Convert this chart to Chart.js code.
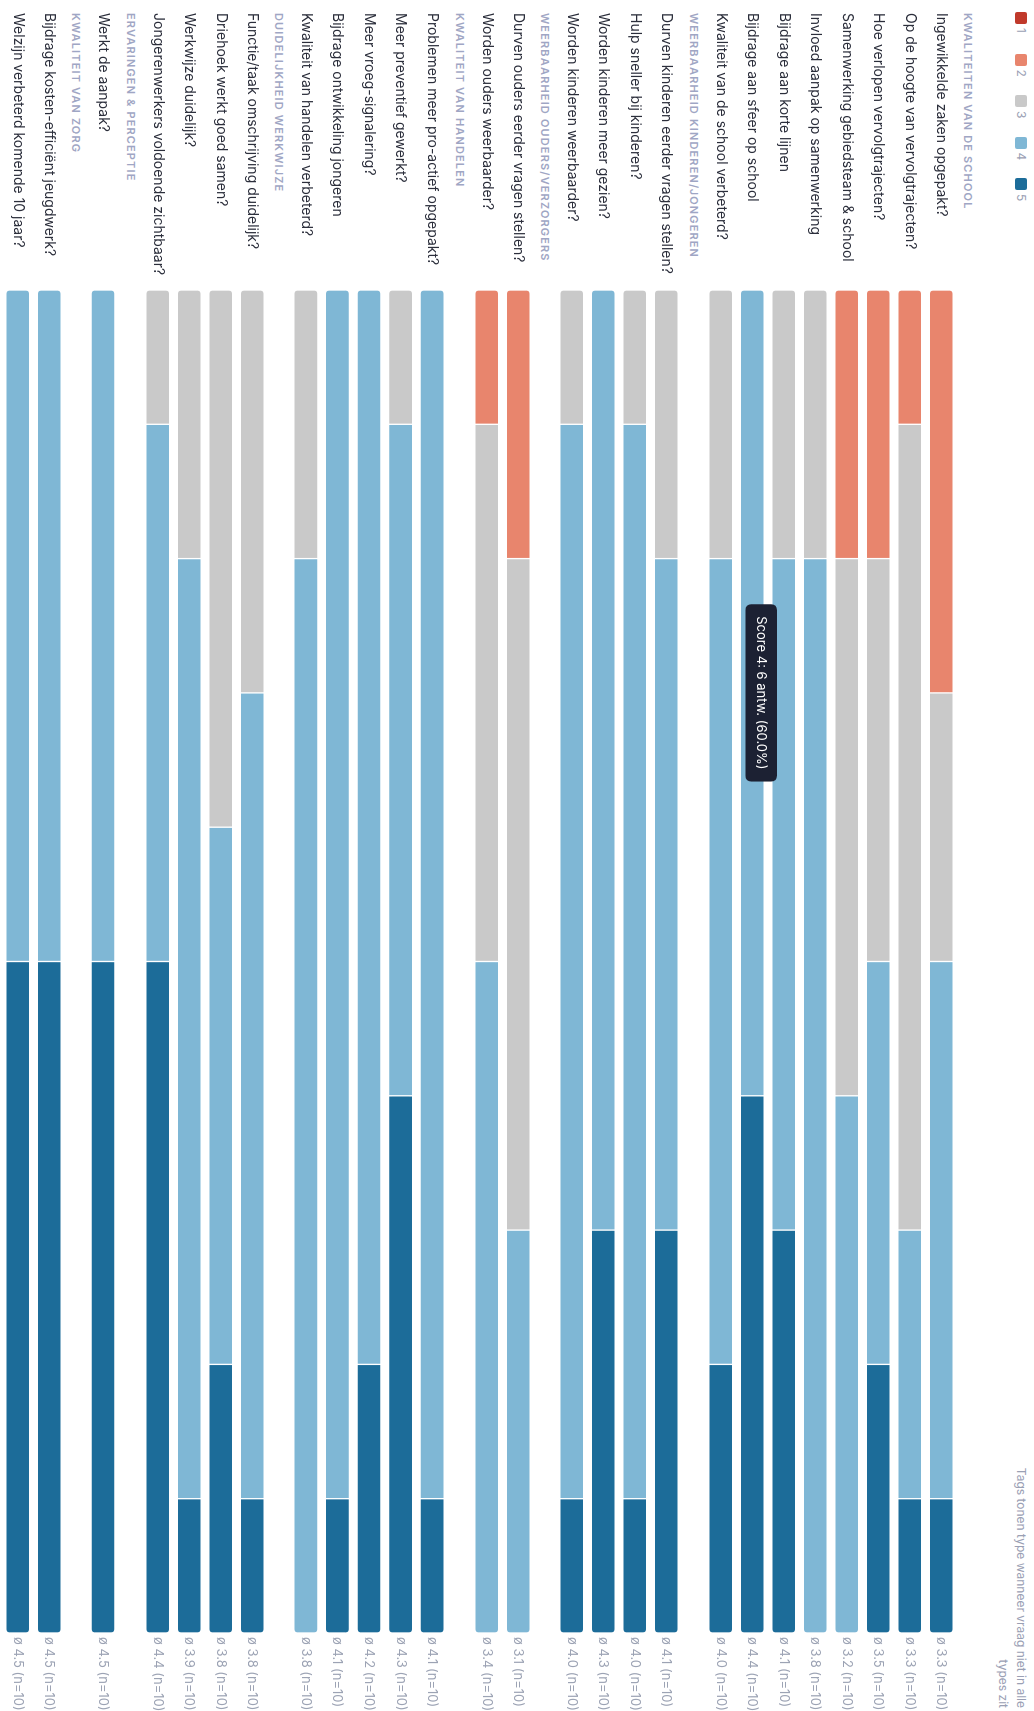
<!DOCTYPE html>
<html>
<head>
<meta charset="utf-8">
<script src="https://cdn.jsdelivr.net/npm/chart.js@4.4.1/dist/chart.umd.min.js"></script>
<style>
html, body { margin:0; padding:0; background:#fff; width:1034px; height:1711px; overflow:hidden; }
/* the chart is laid out landscape (1711x1034) and turned a quarter clockwise */
#page { position:absolute; left:0; top:0; width:1711px; height:1034px; transform-origin:0 0; transform:translateX(1034px) rotate(90deg); font-family:Inter, "Noto Sans", sans-serif; }
#legend { position:absolute; left:12px; top:6px; height:13px; display:flex; }
.item { width:41.5px; display:flex; align-items:center; font-size:12px; color:#9aa0b4; }
.box { width:12px; height:12px; border-radius:2px; margin-right:4px; }
#note { position:absolute; right:3px; top:4px; text-align:right; font-size:12px; line-height:18px; color:#9aa0b4; }
#groups { position:absolute; left:0; top:54.5px; width:1711px; }
.header { height:22.5px; line-height:22.5px; padding-left:13px; font-size:11px; font-weight:600; letter-spacing:1.15px; color:#9fa6c4; }
canvas { display:block; }
</style>
</head>
<body>
<div id="page">
  <div id="legend"></div>
  <div id="note">Tags tonen type wanneer vraag niet in alle<br>types zit</div>
  <div id="groups"></div>
</div>
<script>
var scoreLabels = ['1', '2', '3', '4', '5'];
var scoreColors = ['#c0392b', '#e8856d', '#c9c9c9', '#7fb7d5', '#1c6c99'];

var groupTitles = ['KWALITEITEN VAN DE SCHOOL', 'WEERBAARHEID KINDEREN/JONGEREN', 'WEERBAARHEID OUDERS/VERZORGERS',
    'KWALITEIT VAN HANDELEN', 'DUIDELIJKHEID WERKWIJZE', 'ERVARINGEN & PERCEPTIE', 'KWALITEIT VAN ZORG'];

// antwoorden per score 1..5
var schoolQuestions = ['Ingewikkelde zaken opgepakt?', 'Op de hoogte van vervolgtrajecten?', 'Hoe verlopen vervolgtrajecten?',
    'Samenwerking gebiedsteam & school', 'Invloed aanpak op samenwerking', 'Bijdrage aan korte lijnen',
    'Bijdrage aan sfeer op school', 'Kwaliteit van de school verbeterd?'];
var schoolCounts = [[0, 3, 2, 4, 1], [0, 1, 6, 2, 1], [0, 2, 3, 3, 2], [0, 2, 4, 4, 0],
    [0, 0, 2, 8, 0], [0, 0, 2, 5, 3], [0, 0, 0, 6, 4], [0, 0, 2, 6, 2]];

var kinderenQuestions = ['Durven kinderen eerder vragen stellen?', 'Hulp sneller bij kinderen?',
    'Worden kinderen meer gezien?', 'Worden kinderen weerbaarder?'];
var kinderenCounts = [[0, 0, 2, 5, 3], [0, 0, 1, 8, 1], [0, 0, 0, 7, 3], [0, 0, 1, 8, 1]];

var oudersQuestions = ['Durven ouders eerder vragen stellen?', 'Worden ouders weerbaarder?'];
var oudersCounts = [[0, 2, 5, 3, 0], [0, 1, 4, 5, 0]];

var handelenQuestions = ['Problemen meer pro-actief opgepakt?', 'Meer preventief gewerkt?', 'Meer vroeg-signalering?',
    'Bijdrage ontwikkeling jongeren', 'Kwaliteit van handelen verbeterd?'];
var handelenCounts = [[0, 0, 0, 9, 1], [0, 0, 1, 5, 4], [0, 0, 0, 8, 2], [0, 0, 0, 9, 1], [0, 0, 2, 8, 0]];

var werkwijzeQuestions = ['Functie/taak omschrijving duidelijk?', 'Driehoek werkt goed samen?',
    'Werkwijze duidelijk?', 'Jongerenwerkers voldoende zichtbaar?'];
var werkwijzeCounts = [[0, 0, 3, 6, 1], [0, 0, 4, 4, 2], [0, 0, 2, 7, 1], [0, 0, 1, 4, 5]];

var ervaringenQuestions = ['Werkt de aanpak?'];
var ervaringenCounts = [[0, 0, 0, 5, 5]];

var zorgQuestions = ['Bijdrage kosten-efficiënt jeugdwerk?', 'Welzijn verbeterd komende 10 jaar?'];
var zorgCounts = [[0, 0, 0, 5, 5], [0, 0, 0, 5, 5]];

var groupQuestions = [schoolQuestions, kinderenQuestions, oudersQuestions, handelenQuestions,
    werkwijzeQuestions, ervaringenQuestions, zorgQuestions];
var groupCounts = [schoolCounts, kinderenCounts, oudersCounts, handelenCounts,
    werkwijzeCounts, ervaringenCounts, zorgCounts];

var labelFont = {family: 'Inter', size: 14};
var rowHeight = 31.5;

// legenda
var legendEl = document.getElementById('legend');
scoreLabels.forEach(function (s, i) {
    var item = document.createElement('div');
    item.className = 'item';
    item.innerHTML = '<span class="box" style="background:' + scoreColors[i] + '"></span>' + s;
    legendEl.appendChild(item);
});

Chart.Tooltip.positioners.segmentCenter = function (items) {
    if (!items.length) return false;
    var c = items[0].element.getCenterPoint();
    return {x: c.x, y: c.y - 9};
};

function total(row) {
    return row.reduce(function (a, b) { return a + b; }, 0);
}

function averageLabel(row) {
    var n = total(row);
    var sum = row.reduce(function (a, v, i) { return a + v * (i + 1); }, 0);
    return 'ø ' + (sum / n).toFixed(1) + ' (n=' + n + ')';
}

// vaste breedte, geen extra ruimte boven/onder voor labels
function fixAxis(width) {
    return function (scale) {
        scale.width = width;
        scale.paddingTop = 0;
        scale.paddingBottom = 0;
    };
}

var groupsEl = document.getElementById('groups');
var charts = [];

groupTitles.forEach(function (title, g) {
    var questions = groupQuestions[g];
    var counts = groupCounts[g];

    var header = document.createElement('div');
    header.className = 'header';
    header.textContent = title;
    groupsEl.appendChild(header);

    var canvas = document.createElement('canvas');
    canvas.width = 1711;
    canvas.height = Math.round(questions.length * rowHeight);
    groupsEl.appendChild(canvas);

    var datasets = scoreLabels.map(function (s, d) {
        return {
            label: 'Score ' + s,
            yAxisID: 'y',
            data: counts.map(function (row) { return row[d]; }),
            backgroundColor: scoreColors[d],
            borderColor: 'rgba(255,255,255,0.25)',
            borderWidth: 1,
            borderSkipped: false,
            barThickness: 24,
            borderRadius: function (ctx) {
                if (ctx.dataIndex === undefined) return 0;
                var row = counts[ctx.dataIndex];
                var first = -1, last = -1;
                row.forEach(function (v, i) { if (v > 0) { if (first < 0) first = i; last = i; } });
                var r = 4;
                return {
                    topLeft: ctx.datasetIndex === first ? r : 0,
                    bottomLeft: ctx.datasetIndex === first ? r : 0,
                    topRight: ctx.datasetIndex === last ? r : 0,
                    bottomRight: ctx.datasetIndex === last ? r : 0
                };
            }
        };
    });

    var chart = new Chart(canvas, {
        type: 'bar',
        data: {labels: questions, datasets: datasets},
        options: {
            indexAxis: 'y',
            responsive: false,
            animation: false,
            layout: {padding: {left: 13, right: 0, top: 0, bottom: 0}},
            scales: {
                x: {stacked: true, display: false, min: 0, max: 10},
                y: {
                    stacked: true,
                    grid: {display: false, drawTicks: false},
                    border: {display: false},
                    ticks: {crossAlign: 'far', autoSkip: false, padding: 0, color: '#2b2e3b', font: labelFont},
                    afterFit: fixAxis(277)
                },
                y2: {
                    type: 'category',
                    labels: counts.map(averageLabel),
                    offset: true,
                    position: 'right',
                    grid: {display: false, drawTicks: false},
                    border: {display: false},
                    ticks: {crossAlign: 'near', autoSkip: false, padding: 4, color: '#9ca3b4', font: {family: 'Inter', size: 13}},
                    afterFit: fixAxis(78)
                }
            },
            plugins: {
                legend: {display: false},
                tooltip: {
                    position: 'segmentCenter',
                    xAlign: 'center',
                    yAlign: 'center',
                    caretSize: 0,
                    displayColors: false,
                    backgroundColor: '#1c2133',
                    bodyColor: '#ffffff',
                    bodyFont: {family: 'Inter', size: 13},
                    padding: {top: 8, bottom: 8, left: 12, right: 12},
                    cornerRadius: 6,
                    callbacks: {
                        title: function () { return []; },
                        label: function (item) {
                            var n = total(counts[item.dataIndex]);
                            return 'Score ' + scoreLabels[item.datasetIndex] + ': ' + item.raw + ' antw. (' +
                                (item.raw / n * 100).toFixed(1) + '%)';
                        }
                    }
                }
            }
        }
    });
    charts.push(chart);
});

// tooltip zoals in de schermafbeelding: score 4 bij 'Bijdrage aan sfeer op school'
charts[0].tooltip.setActiveElements([{datasetIndex: 3, index: 6}], {x: 0, y: 0});
charts[0].update();
</script>
</body>
</html>
